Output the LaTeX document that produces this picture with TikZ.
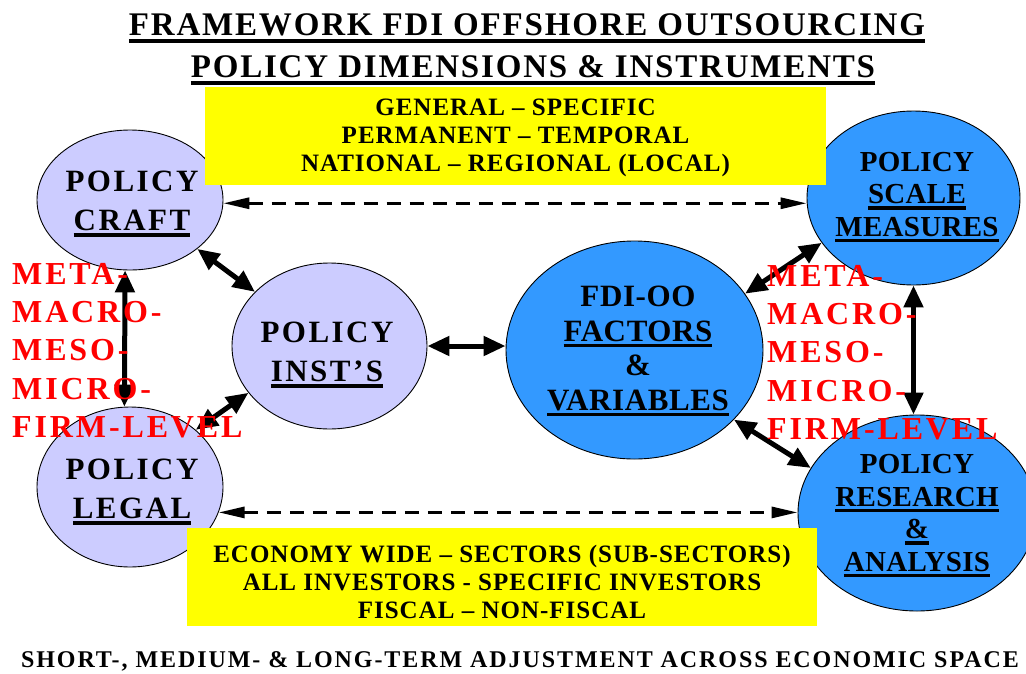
\documentclass[tikz,border=0pt]{standalone}
\usepackage{fontspec}
\setmainfont{Liberation Serif}
\newfontfamily\lspa[LetterSpace=8]{Liberation Serif}
\newfontfamily\lspf[LetterSpace=2]{Liberation Serif}
\newfontfamily\lsps[LetterSpace=1]{Liberation Serif}
\newfontfamily\lspr[LetterSpace=9]{Liberation Serif}
\newfontfamily\lspy[LetterSpace=4]{Liberation Serif}
\newfontfamily\lspt[LetterSpace=5.5]{Liberation Serif}
\newfontfamily\lspb[LetterSpace=8]{Liberation Serif}
\usetikzlibrary{shapes.geometric,arrows.meta,calc}
\definecolor{lav}{HTML}{CCCCFF}
\definecolor{sky}{HTML}{3399FF}
\definecolor{yel}{HTML}{FFFF00}
\definecolor{rd}{HTML}{FF0000}
\newcommand\ulx[1]{\setbox0=\hbox{#1}\rlap{\rule[-6pt]{\wd0}{3.5pt}}\box0}
\newcommand\ult[1]{\setbox0=\hbox{#1}\rlap{\rule[-8pt]{\wd0}{4pt}}\box0}
\begin{document}
\begin{tikzpicture}[x=1pt,y=-1pt,
  ell/.style={ellipse, draw=black, line width=0.9pt, inner sep=0pt},
  etxtA/.style={align=center, inner sep=0pt, font=\lspa\bfseries\fontsize{31}{39}\selectfont},
  etxtB/.style={align=center, inner sep=0pt, font=\lspf\bfseries\fontsize{31}{34.5}\selectfont},
  etxtC/.style={align=center, inner sep=0pt, font=\lsps\bfseries\fontsize{29}{32.5}\selectfont},
  lvl/.style={align=left, inner sep=0pt, text=rd, font=\lspr\bfseries\fontsize{32}{38.3}\selectfont},
  ybox/.style={fill=yel, inner sep=0pt, anchor=north west},
  ytxt/.style={align=center, inner sep=0pt, font=\lspy\bfseries\fontsize{25}{28}\selectfont},
  ttl/.style={inner sep=0pt, anchor=base, font=\lspt\bfseries\fontsize{33}{38}\selectfont},
  dbl/.style={{Triangle[length=22pt,width=19pt]}-{Triangle[length=22pt,width=19pt]}, line width=5pt},
  dsh/.style={{Triangle[length=26pt,width=11pt]}-{Triangle[length=26pt,width=11pt]}, line width=3pt, dash pattern=on 14pt off 9pt}
]
\useasboundingbox (0,0) rectangle (1026,673);

% title
\node[ttl] (t1) at (527,35) {\ult{FRAMEWORK FDI OFFSHORE OUTSOURCING}};
\node[ttl] (t2) at (533,77) {\ult{POLICY DIMENSIONS \& INSTRUMENTS}};

% ellipses
\node[ell, fill=lav, minimum width=186pt, minimum height=140pt] (craft) at (130,200) {};
\node[ell, fill=lav, minimum width=186pt, minimum height=160pt] (legal) at (130,487) {};
\node[ell, fill=lav, minimum width=195pt, minimum height=166pt] (inst) at (329.5,346) {};
\node[ell, fill=sky, minimum width=257pt, minimum height=218pt] (factors) at (634.5,350) {};
\node[ell, fill=sky, minimum width=213pt, minimum height=174pt] (scale) at (913.5,198) {};
\node[ell, fill=sky, minimum width=238pt, minimum height=196pt] (research) at (917,513) {};

% ellipse texts
\node[etxtA] (craftT) at (132,204) {POLICY\\\ulx{CRAFT}};
\node[etxtA] (legalT) at (132,492) {POLICY\\\ulx{LEGAL}};
\node[etxtA] (instT) at (327,355) {POLICY\\\ulx{INST’S}};
\node[etxtB] (factorsT) at (638,351) {FDI-OO\\\ulx{FACTORS}\\\&\\\ulx{VARIABLES}};
\node[etxtC] (scaleT) at (917,197) {POLICY\\\ulx{SCALE}\\\ulx{MEASURES}};
\node[etxtC] (researchT) at (917,516) {POLICY\\\ulx{RESEARCH}\\\ulx{\&}\\\ulx{ANALYSIS}};

% connectors
\draw[dbl] (craft.-36) -- (inst.144);
\draw[dbl] (legal.41) -- (inst.210);
\draw[dbl] (craft.266) -- (legal.94);
\draw[dbl] (inst.east) -- (inst.east -| factors.west);
\draw[dbl] (factors.27) -- (scale.206);
\draw[dbl] (factors.-35) -- (research.157);
\draw[dbl] (scale.south) -- (scale.south |- research.north);
\draw[dsh] (craft.-2) -- (craft.-2 -| scale.west);
\draw[dsh] (legal.-16) -- (legal.-16 -| research.west);

% yellow boxes
\node[ybox, minimum width=621pt, minimum height=98pt] (yb1) at (205,87) {};
\node[ytxt] (yt1) at (515.5,138) {GENERAL – SPECIFIC\\PERMANENT – TEMPORAL\\NATIONAL – REGIONAL (LOCAL)};
\node[ybox, minimum width=630pt, minimum height=98pt] (yb2) at (187,528) {};
\node[ytxt] (yt2) at (502,582) {ECONOMY WIDE – SECTORS (SUB-SECTORS)\\ALL INVESTORS - SPECIFIC INVESTORS\\FISCAL – NON-FISCAL};

% red level labels
\node[lvl, anchor=north west] (lvL) at (12,263) {META-\\MACRO-\\MESO-\\MICRO-\\FIRM-LEVEL};
\node[lvl, anchor=north west] (lvR) at (767,265) {META-\\MACRO-\\MESO-\\MICRO-\\FIRM-LEVEL};

% bottom line
\node[inner sep=0pt, anchor=base, font=\lspb\bfseries\fontsize{24}{28}\selectfont] (bt) at (520,667) {SHORT-, MEDIUM- \& LONG-TERM ADJUSTMENT ACROSS ECONOMIC SPACE};
\end{tikzpicture}
\end{document}
